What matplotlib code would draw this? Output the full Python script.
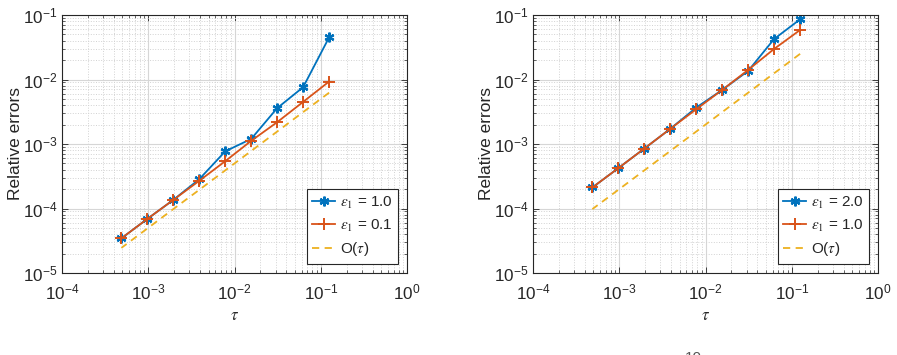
import matplotlib
matplotlib.use("Agg")
import matplotlib.pyplot as plt
from matplotlib.ticker import LogLocator, NullFormatter

plt.rcParams['font.family'] = ['Liberation Sans', 'DejaVu Sans']
plt.rcParams['mathtext.fontset'] = 'stix'

tau = [0.125, 0.0625, 0.03125, 0.015625, 0.0078125, 0.00390625,
       0.001953125, 0.0009765625, 0.00048828125]

# left panel
left_eps10 = [0.045, 0.0076, 0.0036, 0.0012, 0.00077, 0.000285, 0.000136, 6.9e-5, 3.45e-5]
left_eps01 = [0.0093, 0.0045, 0.00218, 0.00112, 0.000542, 0.000269, 0.000136, 6.9e-5, 3.45e-5]
left_ref = [0.00625, 0.003125, 0.00156, 0.00078, 0.00039, 0.000195, 9.8e-5, 4.9e-5, 2.45e-5]

# right panel
right_eps20 = [0.0857, 0.0425, 0.0136, 0.0069, 0.00367, 0.00172, 0.00085, 0.000423, 0.000212]
right_eps10 = [0.0586, 0.0298, 0.0141, 0.0069, 0.00346, 0.00172, 0.00085, 0.000423, 0.000212]
right_ref = [0.025, 0.0125, 0.00625, 0.003125, 0.00156, 0.00078, 0.00039, 0.000195, 9.8e-5]

labels_left = [r'$\epsilon_1$ = 1.0', r'$\epsilon_1$ = 0.1', r'O($\tau$)']
labels_right = [r'$\epsilon_1$ = 2.0', r'$\epsilon_1$ = 1.0', r'O($\tau$)']

blue = '#0072BD'
orange = '#D95319'
yellow = '#EDB120'
dark = '#262626'

fig = plt.figure(figsize=(8.97, 3.55), dpi=100)
axL = fig.add_axes([62/897, 1-273/355, 345/897, 258/355])
axR = fig.add_axes([533/897, 1-273/355, 345/897, 258/355])

asterisk = (6, 2, 0)

def panel(ax, s1, s2, ref, labels):
    ax.loglog(tau, s1, color=blue, lw=1.3, marker=asterisk, ms=7, mew=1.6, label=labels[0])
    ax.loglog(tau, s2, color=orange, lw=1.3, marker='+', ms=8, mew=1.4, label=labels[1])
    ax.loglog(tau, ref, color=yellow, lw=1.3, ls=(0, (4, 3)), label=labels[2])
    ax.set_xlim(1e-4, 1)
    ax.set_ylim(1e-5, 1e-1)
    ax.xaxis.set_major_locator(LogLocator(base=10, numticks=10))
    ax.yaxis.set_major_locator(LogLocator(base=10, numticks=10))
    ax.xaxis.set_minor_locator(LogLocator(base=10, subs=range(2, 10), numticks=20))
    ax.yaxis.set_minor_locator(LogLocator(base=10, subs=range(2, 10), numticks=20))
    ax.xaxis.set_minor_formatter(NullFormatter())
    ax.yaxis.set_minor_formatter(NullFormatter())
    ax.grid(True, which='major', color='#d6d6d6', lw=0.8, ls='-')
    ax.grid(True, which='minor', color='#d2d2d2', lw=0.7, ls=':')
    ax.set_axisbelow(True)
    for sp in ax.spines.values():
        sp.set_color(dark)
        sp.set_linewidth(0.8)
    ax.tick_params(which='both', direction='in', top=True, right=True, colors=dark,
                   labelsize=12.3, labelcolor=dark)
    ax.tick_params(which='major', length=4, width=0.6)
    ax.tick_params(which='minor', length=2, width=0.5)
    ax.tick_params(axis='x', pad=7)
    ax.set_xlabel(r'$\tau$', fontsize=12, color=dark, labelpad=4)
    ax.set_ylabel('Relative errors', fontsize=12.5, color=dark, labelpad=0)
    leg = ax.legend(loc='lower right', fontsize=11, frameon=True, fancybox=False,
                    edgecolor=dark, framealpha=1, handlelength=1.5, handletextpad=0.3,
                    borderpad=0.35, labelspacing=0.45, borderaxespad=0.6)
    leg.get_frame().set_linewidth(0.8)
    for t in leg.get_texts():
        t.set_color(dark)

panel(axL, left_eps10, left_eps01, left_ref, labels_left)
panel(axR, right_eps20, right_eps10, right_ref, labels_right)

fig.text(685/897, 1-351/355, '10', fontsize=11, color='#555555', va='top', ha='left')

fig.savefig('out.png', dpi=100)
